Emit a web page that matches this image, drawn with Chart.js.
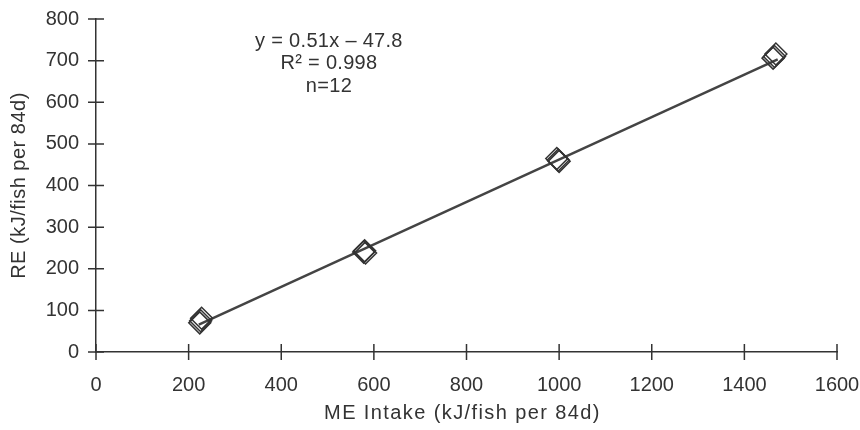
<!DOCTYPE html>
<html>
<head>
<meta charset="utf-8">
<script src="https://cdn.jsdelivr.net/npm/chart.js@4"></script>
<style>
  html, body { margin: 0; padding: 0; background: #fff; }
  #wrap { width: 860px; height: 430px; }
</style>
</head>
<body>
<div id="wrap"><canvas id="canvas" width="860" height="430"></canvas></div>
<script>
// ME intake vs RE, 12 fish groups (four diets, overlapping markers)
const meIntake = [224, 228, 226, 578, 580, 582, 995, 1000, 998, 1462, 1468, 1465];
const reValues = [70, 81, 75, 240, 243, 238, 465, 458, 461, 706, 716, 710];

// fitted line end points
const fitX = [222, 1472];
const fitY = [66, 703];

const xTicks = [0, 200, 400, 600, 800, 1000, 1200, 1400, 1600];
const yTicks = [0, 100, 200, 300, 400, 500, 600, 700, 800];

const xTitle = "ME Intake (kJ/fish per 84d)";
const yTitle = "RE (kJ/fish per 84d)";
const eqLines = ["y = 0.51x \u2013 47.8", "R\u00b2 = 0.998", "n=12"];
const eqY = [746, 692, 637];

const ink = "#333";
const family = "'Liberation Sans', Arial, sans-serif";
const font = { family: family, size: 20 };

// ticks crossing the axis lines, axis titles and the regression text
const extras = {
  id: "extras",
  afterDraw(chart) {
    const ctx = chart.ctx;
    const xs = chart.scales.x;
    const ys = chart.scales.y;
    const len = 8;
    ctx.save();
    ctx.strokeStyle = ink;
    ctx.lineWidth = 1.5;
    ctx.beginPath();
    xTicks.forEach(v => {
      const px = xs.getPixelForValue(v);
      ctx.moveTo(px, ys.bottom - len);
      ctx.lineTo(px, ys.bottom + len);
    });
    yTicks.forEach(v => {
      const py = ys.getPixelForValue(v);
      ctx.moveTo(xs.left - len, py);
      ctx.lineTo(xs.left + len, py);
    });
    ctx.stroke();

    ctx.fillStyle = ink;
    ctx.font = "20px " + family;
    ctx.textAlign = "center";
    ctx.textBaseline = "middle";

    const cx = xs.getPixelForValue(503);
    ctx.letterSpacing = "0.3px";
    eqLines.forEach((t, i) => {
      ctx.fillText(t, cx, ys.getPixelForValue(eqY[i]));
    });

    ctx.letterSpacing = "1.4px";
    ctx.fillText(xTitle, (xs.left + xs.right) / 2 - 4, 413);

    ctx.letterSpacing = "0.5px";
    ctx.translate(19, (ys.top + ys.bottom) / 2);
    ctx.rotate(-Math.PI / 2);
    ctx.fillText(yTitle, 0, 0);
    ctx.restore();
  }
};

const chart = new Chart(document.getElementById("canvas"), {
  type: "scatter",
  data: {
    datasets: [
      {
        label: "RE",
        data: meIntake.map((x, i) => ({ x: x, y: reValues[i] })),
        pointStyle: "rectRot",
        pointRadius: 11,
        pointBorderWidth: 1.5,
        pointBorderColor: ink,
        pointBackgroundColor: "rgba(0,0,0,0)",
        showLine: false
      },
      {
        label: "fit",
        type: "line",
        data: fitX.map((x, i) => ({ x: x, y: fitY[i] })),
        borderColor: "#444",
        borderWidth: 2.5,
        pointRadius: 0,
        fill: false
      }
    ]
  },
  options: {
    responsive: false,
    animation: false,
    layout: { padding: { top: 19, right: 23, left: 0, bottom: 0 } },
    plugins: {
      legend: { display: false },
      tooltip: { enabled: false }
    },
    scales: {
      x: {
        type: "linear",
        min: 0,
        max: 1600,
        afterBuildTicks: s => { s.ticks = xTicks.map(v => ({ value: v })); },
        afterFit: s => {
          s.height = 78;
          s.paddingLeft = 0;
          s.paddingRight = 0;
        },
        grid: { display: false, drawTicks: false },
        border: { display: true, color: ink, width: 1.5 },
        ticks: { color: ink, font: font, padding: 21, maxRotation: 0, callback: v => String(v) }
      },
      y: {
        type: "linear",
        min: 0,
        max: 800,
        afterBuildTicks: s => { s.ticks = yTicks.map(v => ({ value: v })); },
        afterFit: s => {
          s.width = 96;
          s.paddingTop = 0;
          s.paddingBottom = 0;
        },
        grid: { display: false, drawTicks: false },
        border: { display: true, color: ink, width: 1.5 },
        ticks: { color: ink, font: font, padding: 17, callback: v => String(v) }
      }
    }
  },
  plugins: [extras]
});
</script>
</body>
</html>
